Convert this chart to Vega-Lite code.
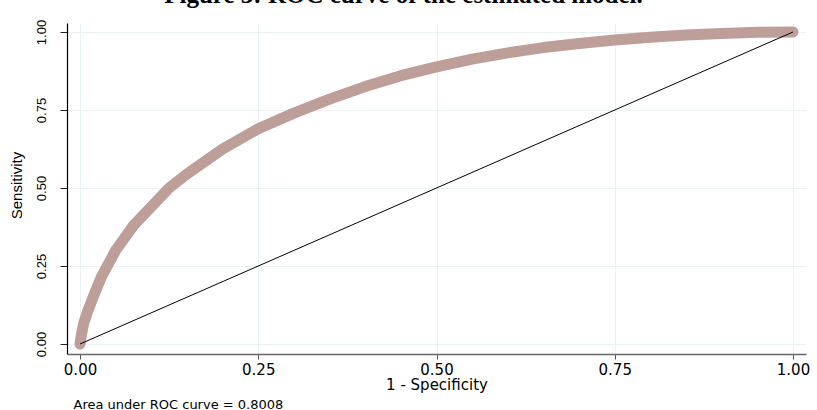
{
  "$schema": "https://vega.github.io/schema/vega-lite/v6.json",
  "width": 739,
  "height": 331,
  "autosize": {"type": "none"},
  "padding": {"left": 67, "top": 23, "right": 11, "bottom": 56},
  "background": "white",
  "title": {
    "text": "Figure 3: ROC curve of the estimated model.",
    "font": "Liberation Serif",
    "fontSize": 25,
    "fontWeight": "bold",
    "color": "black",
    "anchor": "middle",
    "frame": "group",
    "dx": -33,
    "baseline": "alphabetic",
    "offset": -9
  },
  "datasets": {
    "roc": [
      {"fpr": 0, "tpr": 0},
      {"fpr": 0.002, "tpr": 0.03},
      {"fpr": 0.005, "tpr": 0.065},
      {"fpr": 0.01, "tpr": 0.1},
      {"fpr": 0.02, "tpr": 0.16},
      {"fpr": 0.03, "tpr": 0.215},
      {"fpr": 0.05, "tpr": 0.3},
      {"fpr": 0.075, "tpr": 0.38},
      {"fpr": 0.1, "tpr": 0.44},
      {"fpr": 0.125, "tpr": 0.5},
      {"fpr": 0.15, "tpr": 0.545},
      {"fpr": 0.2, "tpr": 0.625},
      {"fpr": 0.25, "tpr": 0.69},
      {"fpr": 0.3, "tpr": 0.74},
      {"fpr": 0.35, "tpr": 0.785},
      {"fpr": 0.4, "tpr": 0.825},
      {"fpr": 0.45, "tpr": 0.86},
      {"fpr": 0.5, "tpr": 0.888},
      {"fpr": 0.55, "tpr": 0.913},
      {"fpr": 0.6, "tpr": 0.933},
      {"fpr": 0.65, "tpr": 0.95},
      {"fpr": 0.7, "tpr": 0.963},
      {"fpr": 0.75, "tpr": 0.974},
      {"fpr": 0.8, "tpr": 0.983},
      {"fpr": 0.85, "tpr": 0.99},
      {"fpr": 0.9, "tpr": 0.995},
      {"fpr": 0.95, "tpr": 0.999},
      {"fpr": 1, "tpr": 1}
    ],
    "diag": [
      {"fpr": 0, "tpr": 0},
      {"fpr": 1, "tpr": 1}
    ]
  },
  "layer": [
    {
      "data": {"name": "roc"},
      "mark": {"type": "line", "color": "#bd9e98", "strokeWidth": 11, "strokeCap": "round", "strokeJoin": "round"},
      "encoding": {
        "x": {
          "field": "fpr", "type": "quantitative",
          "scale": {"domain": [-0.01826, 1.01826], "nice": false, "zero": false},
          "axis": {
            "orient": "bottom",
            "values": [0, 0.25, 0.5, 0.75, 1],
            "format": ".2f",
            "title": "1 - Specificity",
            "titleFont": "DejaVu Sans",
            "titleFontSize": 15,
            "titleFontWeight": "normal",
            "titleColor": "black",
            "titleBaseline": "alphabetic",
            "titleY": 35,
            "labelFont": "DejaVu Sans",
            "labelFontSize": 15,
            "labelColor": "black",
            "labelBaseline": "alphabetic",
            "labelPadding": 15,
            "tickSize": 5,
            "tickColor": "#555555",
            "domainColor": "#666666",
            "domainWidth": 1.5,
            "grid": true,
            "gridColor": "#eaf2f3",
            "gridWidth": 1
          }
        },
        "y": {
          "field": "tpr", "type": "quantitative",
          "scale": {"domain": [-0.032, 1.0288], "nice": false, "zero": false},
          "axis": {
            "values": [0, 0.25, 0.5, 0.75, 1],
            "format": ".2f",
            "title": "Sensitivity",
            "titleFont": "Liberation Sans",
            "titleFontSize": 15,
            "titleFontWeight": "normal",
            "titleColor": "black",
            "titleAngle": -90,
            "titleBaseline": "alphabetic",
            "titleAlign": "center",
            "titleX": -46,
            "titleY": 162,
            "labelFont": "Liberation Sans",
            "labelFontSize": 13,
            "labelColor": "black",
            "labelAngle": -90,
            "labelAlign": "center",
            "labelBaseline": "alphabetic",
            "labelPadding": 15,
            "tickSize": 7,
            "tickColor": "#222222",
            "domainColor": "black",
            "domainWidth": 1.2,
            "grid": true,
            "gridColor": "#eaf2f3",
            "gridWidth": 1
          }
        }
      }
    },
    {
      "data": {"name": "diag"},
      "mark": {"type": "line", "color": "black", "strokeWidth": 1},
      "encoding": {
        "x": {
          "field": "fpr", "type": "quantitative",
          "axis": {
            "orient": "bottom",
            "title": "Area under ROC curve = 0.8008",
            "titleFont": "DejaVu Sans",
            "titleFontSize": 13,
            "titleFontWeight": "normal",
            "titleColor": "black",
            "titleAlign": "left",
            "titleAnchor": "start",
            "titleBaseline": "alphabetic",
            "titleX": 6,
            "titleY": 54,
            "labels": false,
            "ticks": false,
            "domain": false,
            "grid": false
          }
        },
        "y": {"field": "tpr", "type": "quantitative", "axis": null}
      }
    }
  ],
  "resolve": {"axis": {"x": "independent", "y": "independent"}},
  "config": {"view": {"stroke": null}}
}
